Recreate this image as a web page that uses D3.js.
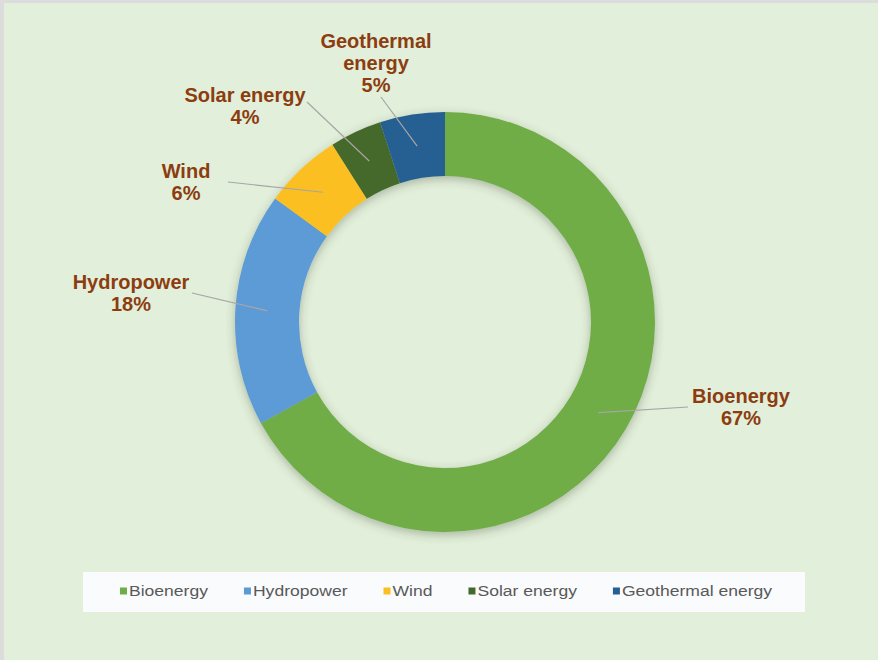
<!DOCTYPE html>
<html>
<head>
<meta charset="utf-8">
<script src="https://cdn.jsdelivr.net/npm/d3@7"></script>
<style>
  html, body { margin: 0; padding: 0; background: #dcdcdc; }
  #chart { width: 878px; height: 660px; }
  text { font-family: "Liberation Sans", Arial, sans-serif; }
</style>
</head>
<body>
<div id="chart"></div>
<script>
// data
const categories = ["Bioenergy", "Hydropower", "Wind", "Solar energy", "Geothermal energy"];
const shares = [67, 18, 6, 4, 5];
const colors = ["#70ad47", "#5b9bd5", "#fbbf24", "#44692b", "#265f92"];

// label text lines (the long ones wrap the same way as in the picture)
const labelLines = [["Bioenergy"], ["Hydropower"], ["Wind"], ["Solar energy"], ["Geothermal", "energy"]];

// hand placed labels: centre x, first baseline, and where the leader line leaves the label
const labelPlace = [
    { x: 741, y: 403, lx: 688, ly: 407 },
    { x: 131, y: 289, lx: 192, ly: 293 },
    { x: 186, y: 178, lx: 228, ly: 182 },
    { x: 245, y: 102, lx: 307, ly: 102 },
    { x: 376, y: 48,  lx: 381, ly: 97 }
];

function donutDraw() {
    let width = 878, height = 660;
    let cx = 445, cy = 322,
        outerR = 210, innerR = 146;

    let svg = d3.select("#chart")
        .append("svg")
        .attr("width", width)
        .attr("height", height);

    // soft shadow under the ring
    let defs = svg.append("defs");
    let f = defs.append("filter").attr("id", "shadow")
        .attr("x", "-20%").attr("y", "-20%").attr("width", "140%").attr("height", "140%");
    f.append("feDropShadow")
        .attr("dx", 0).attr("dy", 3)
        .attr("stdDeviation", 5)
        .attr("flood-color", "#3a4a30")
        .attr("flood-opacity", 0.35);

    // background panel
    svg.append("rect")
        .attr("x", 4).attr("y", 3)
        .attr("width", width - 4).attr("height", height - 3)
        .attr("fill", "#e2efda");

    let data = categories.map((c, i) => ({ name: c, value: shares[i], color: colors[i], i: i }));
    let total = d3.sum(shares);
    let pct = d3.format(".0%");

    let pie = d3.pie()
        .sort(null)
        .value(d => d.value);

    let arc = d3.arc()
        .innerRadius(innerR)
        .outerRadius(outerR);

    let g = svg.append("g")
        .attr("transform", "translate(" + cx + "," + cy + ")");

    g.append("g")
        .attr("filter", "url(#shadow)")
        .selectAll("path")
        .data(pie(data))
        .enter()
        .append("path")
        .attr("d", arc)
        .attr("fill", d => d.data.color);

    // leader lines: from the slice centroid to the label
    g.selectAll("line.leader")
        .data(pie(data))
        .enter()
        .append("line")
        .attr("class", "leader")
        .attr("x1", d => arc.centroid(d)[0])
        .attr("y1", d => arc.centroid(d)[1])
        .attr("x2", d => labelPlace[d.data.i].lx - cx)
        .attr("y2", d => labelPlace[d.data.i].ly - cy)
        .attr("stroke", "#a6a6a6")
        .attr("stroke-width", 1.2);

    // labels
    let labels = svg.selectAll("text.lbl")
        .data(data)
        .enter()
        .append("text")
        .attr("class", "lbl")
        .attr("text-anchor", "middle")
        .attr("font-size", "20px")
        .attr("font-weight", "bold")
        .attr("fill", "#8c3d10")
        .attr("transform", d => "translate(" + labelPlace[d.i].x + "," + labelPlace[d.i].y + ")");

    labels.each(function(d) {
        let t = d3.select(this);
        let lines = labelLines[d.i].concat([pct(d.value / total)]);
        lines.forEach((s, k) => {
            t.append("tspan").attr("x", 0).attr("y", k * 22).text(s);
        });
    });

    // legend
    let lx0 = 83, ly0 = 572, lw = 722, lh = 40;
    svg.append("rect")
        .attr("x", lx0).attr("y", ly0)
        .attr("width", lw).attr("height", lh)
        .attr("fill", "#fafbfc");

    let sx = 1.17, gap = 36, box = 7;
    let legend = svg.append("g");
    let items = legend.selectAll("g")
        .data(data)
        .enter()
        .append("g");

    items.append("rect")
        .attr("width", box).attr("height", box)
        .attr("y", -box / 2)
        .attr("fill", d => d.color);

    items.append("text")
        .attr("transform", "translate(" + (box + 2) + ",0) scale(" + sx + ",1)")
        .attr("dy", "0.35em")
        .attr("font-size", "15px")
        .attr("fill", "#595959")
        .text(d => d.name);

    let widths = [];
    items.each(function() {
        widths.push(box + 2 + d3.select(this).select("text").node().getComputedTextLength() * sx);
    });
    let totalW = d3.sum(widths) + gap * (widths.length - 1);
    let x = lx0 + lw / 2 - totalW / 2 + 2;
    items.attr("transform", (d, i) => {
        let t = "translate(" + x + "," + (ly0 + lh / 2 - 1) + ")";
        x += widths[i] + gap;
        return t;
    });
}

donutDraw();
</script>
</body>
</html>
